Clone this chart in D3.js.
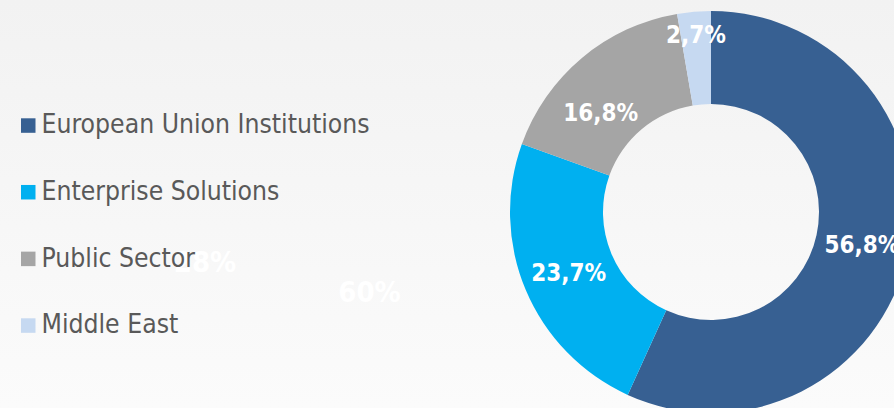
<!DOCTYPE html>
<html>
<head>
<meta charset="utf-8">
<script src="https://cdn.jsdelivr.net/npm/d3@7"></script>
<style>
  html, body { margin: 0; padding: 0; overflow: hidden; }
  svg { display: block; }
</style>
</head>
<body>
<svg id="chart" width="894" height="408"></svg>
<script>
// ---- data ----
const categories = ["European Union Institutions", "Enterprise Solutions", "Public Sector", "Middle East"];
const shares = [56.8, 23.7, 16.8, 2.7];
const shareLabels = ["56,8%", "23,7%", "16,8%", "2,7%"];
const colors = ["#376092", "#00B0F0", "#A5A5A5", "#C6D9F1"];
// faint leftover labels visible in the background of the reference
const ghostLabels = ["28%", "60%"];

// ---- layout ----
const W = 894, H = 408;
const svg = d3.select("#chart");
const font = "'DejaVu Sans Condensed', 'DejaVu Sans', sans-serif";

const defs = svg.append("defs");
const grad = defs.append("linearGradient").attr("id", "bg").attr("x1", 0).attr("y1", 0).attr("x2", 0).attr("y2", 1);
grad.append("stop").attr("offset", "0%").attr("stop-color", "#f2f2f2");
grad.append("stop").attr("offset", "100%").attr("stop-color", "#fbfbfb");
svg.append("rect").attr("width", W).attr("height", H).attr("fill", "url(#bg)");

// ghost labels
const ghostPos = [[205, 272], [369.5, 302]];
svg.append("g").selectAll("text").data(ghostLabels).join("text")
  .attr("x", (d, i) => ghostPos[i][0])
  .attr("y", (d, i) => ghostPos[i][1])
  .attr("text-anchor", "middle")
  .attr("font-family", font).attr("font-weight", "bold").attr("font-size", 29)
  .attr("fill", "#ffffff")
  .text(d => d);

// legend
const legendY = d3.scalePoint().domain(categories).range([133.3, 333.3]);
const legend = svg.append("g");
const items = legend.selectAll("g").data(categories).join("g")
  .attr("transform", d => `translate(0,${legendY(d)})`);
items.append("rect").attr("x", 21).attr("y", -15).attr("width", 14.5).attr("height", 14.5)
  .attr("fill", (d, i) => colors[i]);
items.append("text").attr("x", 41.5).attr("y", 0)
  .attr("font-family", font).attr("font-size", 26.3).attr("fill", "#595959")
  .text(d => d);

// donut
const cx = 711, cy = 212, rOuter = 201, rInner = 108;
const pie = d3.pie().sort(null).value(d => d)(shares);
const arc = d3.arc().innerRadius(rInner).outerRadius(rOuter);
const g = svg.append("g").attr("transform", `translate(${cx},${cy})`);
g.selectAll("path").data(pie).join("path")
  .attr("d", arc)
  .attr("fill", (d, i) => colors[i]);

// label placement: centroid, with Excel-like adjustments for crowded small slices
const labelArcOuter = d3.arc().innerRadius(rOuter - 46).outerRadius(rOuter - 0);
const nudge = [[0, 0], [0, 0], [-11, 19], [0, 0]];
g.selectAll("text").data(pie).join("text")
  .attr("transform", (d, i) => {
    const c = i === 3 ? labelArcOuter.centroid(d) : arc.centroid(d);
    return `translate(${c[0] + nudge[i][0]},${c[1] + nudge[i][1]})`;
  })
  .attr("text-anchor", "middle")
  .attr("dy", "0.36em")
  .attr("font-family", font).attr("font-weight", "bold").attr("font-size", 24)
  .attr("fill", "#ffffff")
  .text((d, i) => shareLabels[i]);
</script>
</body>
</html>
